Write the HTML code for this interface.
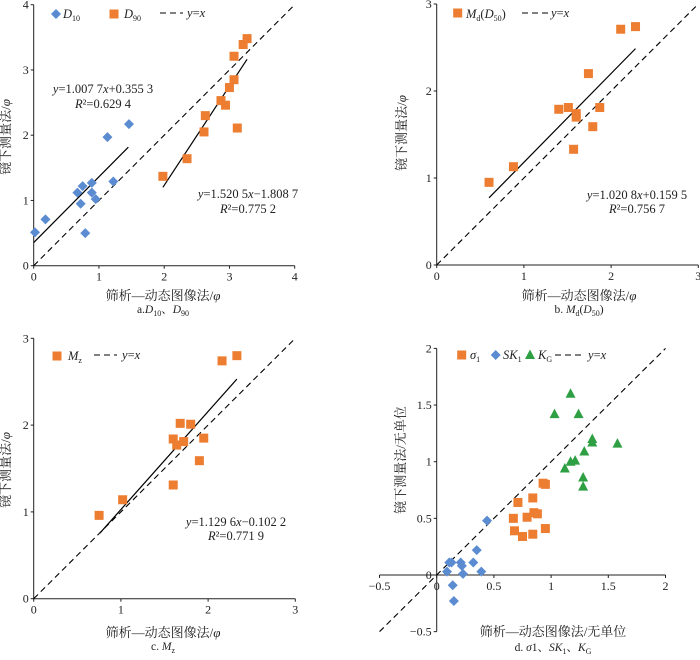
<!DOCTYPE html>
<html><head><meta charset="utf-8"><style>
body{margin:0;background:#fff}
svg text{font-family:"Liberation Serif","Noto Serif CJK SC",serif;fill:#222}
</style></head><body>
<svg id="fig" width="700" height="655" viewBox="0 0 700 655" xmlns="http://www.w3.org/2000/svg"></svg>
<script>
// Panel a data
const aD10x=[0.02,0.18,0.67,0.75,0.72,0.89,0.89,0.95,0.79,1.22,1.13,1.46];
const aD10y=[0.51,0.71,1.12,1.22,0.95,1.27,1.12,1.02,0.50,1.29,1.97,2.17];
const aD90x=[1.98,2.35,2.61,2.63,2.87,2.94,3.00,3.07,3.12,3.07,3.21,3.27];
const aD90y=[1.37,1.64,2.05,2.30,2.53,2.46,2.73,2.85,2.11,3.21,3.39,3.48];
const aFit1=[1.0077,0.3553,0,1.45];
const aFit2=[1.5205,-1.8087,1.98,3.27];
const aTicks=[0,1,2,3,4];
// Panel b
const bX=[0.60,0.88,1.40,1.51,1.60,1.60,1.57,1.74,1.79,1.87,2.11,2.28];
const bY=[0.95,1.13,1.79,1.81,1.74,1.70,1.33,2.20,1.59,1.81,2.71,2.74];
const bFit=[1.0208,0.1595,0.6,2.28];
const bTicks=[0,1,2,3];
// Panel c
const cX=[0.75,1.02,1.60,1.64,1.68,1.72,1.80,1.95,1.90,1.60,2.16,2.33];
const cY=[0.96,1.14,1.84,1.77,2.02,1.81,2.01,1.85,1.59,1.31,2.74,2.80];
const cFit=[1.1296,-0.1022,0.76,2.33];
const cTicks=[0,1,2,3];
// Panel d
const dSigX=[0.67,0.68,0.71,0.75,0.79,0.84,0.84,0.85,0.88,0.93,0.95,0.95];
const dSigY=[0.50,0.39,0.64,0.34,0.51,0.68,0.36,0.55,0.54,0.81,0.80,0.41];
const dSkX=[0.09,0.11,0.13,0.21,0.22,0.23,0.14,0.15,0.32,0.35,0.39,0.44];
const dSkY=[0.03,0.11,0.11,0.11,0.08,0.01,-0.09,-0.23,0.11,0.22,0.03,0.48];
const dKgX=[1.12,1.17,1.03,1.17,1.21,1.24,1.29,1.28,1.28,1.36,1.36,1.58];
const dKgY=[0.94,1.60,1.42,1.00,1.01,1.42,1.09,0.86,0.78,1.20,1.17,1.16];
const dTicks=[-0.5,0,0.5,1,1.5,2];
const dTickLabels=['−0.5','0','0.5','1','1.5','2'];

const NS='http://www.w3.org/2000/svg';
const svg=document.getElementById('fig');
const OR='#ED7D31',BL='#5B8BD0',GR='#2EA043';
function el(tag,attrs,parent){const e=document.createElementNS(NS,tag);for(const k in attrs)e.setAttribute(k,attrs[k]);(parent||svg).appendChild(e);return e;}
function txt(x,y,html,size,anchor,parent){const t=el('text',{x:x,y:y,'font-size':size||12,'text-anchor':anchor||'middle'},parent);t.innerHTML=html;return t;}
function mk(P){return {X:v=>P.ox+(v-P.vx0)*P.sx, Y:v=>P.oy-(v-P.vy0)*P.sy};}
function marker(g,type,x,y,c){
  let m;
  if(type==='sq') m=el('rect',{x:x-4.5,y:y-4.5,width:9,height:9,fill:c},g);
  else if(type==='dia') m=el('polygon',{points:`${x},${y-5} ${x+5},${y} ${x},${y+5} ${x-5},${y}`,fill:c},g);
  else m=el('polygon',{points:`${x},${y-5.5} ${x+5},${y+4} ${x-5},${y+4}`,fill:c},g);
  return m;
}
function series(g,name,type,xs,ys,c,S){
  const sg=el('g',{},g);
  
  
  for(let i=0;i<xs.length;i++){
    const m=marker(sg,type,S.X(xs[i]),S.Y(ys[i]),c);
    
    
  }
}
function fit(g,name,f,S){
  const l=el('line',{x1:S.X(f[2]),y1:S.Y(f[0]*f[2]+f[1]),x2:S.X(f[3]),y2:S.Y(f[0]*f[3]+f[1]),stroke:'#000','stroke-width':1.2},g);
  
  
}
function diag(g,a,b,S){
  const l=el('line',{x1:S.X(a),y1:S.Y(a),x2:S.X(b),y2:S.Y(b),stroke:'#000','stroke-width':1.1,'stroke-dasharray':'6,4'},g);
  
  
}
function axes(g,S,xt,yt,xl,yl,xmin,xmax,ymin,ymax,xAxisY,yAxisX){
  const ax=el('line',{x1:S.X(xmin),y1:S.Y(xAxisY),x2:S.X(xmax),y2:S.Y(xAxisY),stroke:'#222','stroke-width':1},g);
  
  const ay=el('line',{x1:S.X(yAxisX),y1:S.Y(ymin),x2:S.X(yAxisX),y2:S.Y(ymax),stroke:'#222','stroke-width':1},g);
  
  xt.forEach((v,i)=>{el('line',{x1:S.X(v),y1:S.Y(xAxisY),x2:S.X(v),y2:S.Y(xAxisY)+3,stroke:'#222'},g);
    const t=txt(S.X(v),S.Y(xAxisY)+15,xl[i],12,'middle',g);});
  yt.forEach((v,i)=>{el('line',{x1:S.X(yAxisX)-3,y1:S.Y(v),x2:S.X(yAxisX),y2:S.Y(v),stroke:'#222'},g);
    const t=txt(S.X(yAxisX)-5,S.Y(v)+4,yl[i],12,'end',g);});
}
function panel(name){const g=el('g',{});return g;}
function label(g,name,x,y,html,size,rot,anchor){const t=txt(x,y,html,size||12.5,anchor||'middle',g);if(rot)t.setAttribute('transform',`rotate(-90 ${x} ${y})`);return t;}
function legendDash(g,x1,x2,y){const l=el('line',{x1:x1,y1:y,x2:x2,y2:y,stroke:'#000','stroke-width':1.1,'stroke-dasharray':'6,4'},g);}
const I=s=>`<tspan font-style="italic">${s}</tspan>`;
const SUB=(s,after)=>`<tspan font-size="8" dy="3">${s}</tspan><tspan dy="-3">${after||''}</tspan>`;

// ---- Panel a
{const g=panel('panel-a');const S=mk({ox:33.7,oy:265.7,sx:65.25,sy:65.25,vx0:0,vy0:0});
 axes(g,S,aTicks,aTicks,aTicks.map(String),aTicks.map(String),0,4,0,4,0,0);
 diag(g,0,4,S);fit(g,'fit-line-d10',aFit1,S);fit(g,'fit-line-d90',aFit2,S);
 series(g,'d10-series','dia',aD10x,aD10y,BL,S);series(g,'d90-series','sq',aD90x,aD90y,OR,S);
 marker(g,'dia',56,14,BL);label(g,'legend-d10',63,18,I('D')+SUB('10'),12.5,false,'start');
 marker(g,'sq',114,14,OR);label(g,'legend-d90',124,18,I('D')+SUB('90'),12.5,false,'start');
 legendDash(g,160,183,13);label(g,'legend-yx',187,17,I('y')+'='+I('x'),12.5,false,'start');
 label(g,'equation-d10',103,93,I('y')+'=1.007 7'+I('x')+'+0.355 3');
 label(g,'r2-d10',103,108,I('R')+'²=0.629 4');
 label(g,'equation-d90',248,198,I('y')+'=1.520 5'+I('x')+'−1.808 7');
 label(g,'r2-d90',248,213,I('R')+'²=0.775 2');
 label(g,'y-axis-title',10,137,'镜下测量法/'+I('φ'),13,true);
 label(g,'x-axis-title',163,300,'筛析—动态图像法/'+I('φ'),13);
 label(g,'caption-a',163,313,'a.'+I('D')+SUB('10','、')+I('D')+SUB('90'),11.5);}
// ---- Panel b
{const g=panel('panel-b');const S=mk({ox:436.7,oy:265,sx:87.2,sy:87,vx0:0,vy0:0});
 axes(g,S,bTicks,bTicks,bTicks.map(String),bTicks.map(String),0,3,0,3,0,0);
 diag(g,0,3,S);fit(g,'fit-line',bFit,S);series(g,'md-series','sq',bX,bY,OR,S);
 marker(g,'sq',457.7,13,OR);label(g,'legend-md',466,18,I('M')+SUB('d','(')+I('D')+SUB('50',')'),12.5,false,'start');
 legendDash(g,522,548,13);label(g,'legend-yx',551,17,I('y')+'='+I('x'),12.5,false,'start');
 label(g,'equation',637,199,I('y')+'=1.020 8'+I('x')+'+0.159 5');
 label(g,'r2',637,213,I('R')+'²=0.756 7');
 label(g,'y-axis-title',406,133,'镜下测量法/'+I('φ'),13,true);
 label(g,'x-axis-title',579,300,'筛析—动态图像法/'+I('φ'),13);
 label(g,'caption-b',579,313,'b. '+I('M')+SUB('d','(')+I('D')+SUB('50',')'),11.5);}
// ---- Panel c
{const g=panel('panel-c');const S=mk({ox:33.7,oy:598.7,sx:87.2,sy:86.8,vx0:0,vy0:0});
 axes(g,S,cTicks,cTicks,cTicks.map(String),cTicks.map(String),0,3,0,3,0,0);
 diag(g,0,3,S);fit(g,'fit-line',cFit,S);series(g,'mz-series','sq',cX,cY,OR,S);
 marker(g,'sq',57,356,OR);label(g,'legend-mz',68,360,I('M')+SUB('z'),12.5,false,'start');
 legendDash(g,94,117,355);label(g,'legend-yx',122,359,I('y')+'='+I('x'),12.5,false,'start');
 label(g,'equation',236,526,I('y')+'=1.129 6'+I('x')+'−0.102 2');
 label(g,'r2',236,540,I('R')+'²=0.771 9');
 label(g,'y-axis-title',10,470,'镜下测量法/'+I('φ'),13,true);
 label(g,'x-axis-title',163,637,'筛析—动态图像法/'+I('φ'),13);
 label(g,'caption-c',163,650,'c. '+I('M')+SUB('z'),11.5);}
// ---- Panel d
{const g=panel('panel-d');const S=mk({ox:436.7,oy:575,sx:114.4,sy:113.3,vx0:0,vy0:0});
 axes(g,S,dTicks,dTicks.slice(1),dTickLabels,dTickLabels.slice(1),-0.5,2,-0.5,2,0,0);
 {const t=txt(S.X(0)-5,S.Y(-0.5)+4,'−0.5',12,'end',g);}
 el('line',{x1:S.X(0)-3,y1:S.Y(-0.5),x2:S.X(0),y2:S.Y(-0.5),stroke:'#222'},g);
 diag(g,-0.5,2,S);
 series(g,'sigma1-series','sq',dSigX,dSigY,OR,S);series(g,'sk1-series','dia',dSkX,dSkY,BL,S);series(g,'kg-series','tri',dKgX,dKgY,GR,S);
 marker(g,'sq',461.7,355,OR);label(g,'legend-sigma1',470,359,I('σ')+SUB('1'),12.5,false,'start');
 marker(g,'dia',495.7,355,BL);label(g,'legend-sk1',503,359,I('SK')+SUB('1'),12.5,false,'start');
 marker(g,'tri',530,355,GR);label(g,'legend-kg',538,359,I('K')+SUB('G'),12.5,false,'start');
 legendDash(g,555,582,355);label(g,'legend-yx',588,359,I('y')+'='+I('x'),12.5,false,'start');
 label(g,'y-axis-title',405,460,'镜下测量法/无单位',13,true);
 label(g,'x-axis-title',553,636,'筛析—动态图像法/无单位',13);
 label(g,'caption-d',553,651,'d. '+I('σ')+'1、'+I('SK')+SUB('1','、')+I('K')+SUB('G'),11.5);}
</script>
</body></html>
